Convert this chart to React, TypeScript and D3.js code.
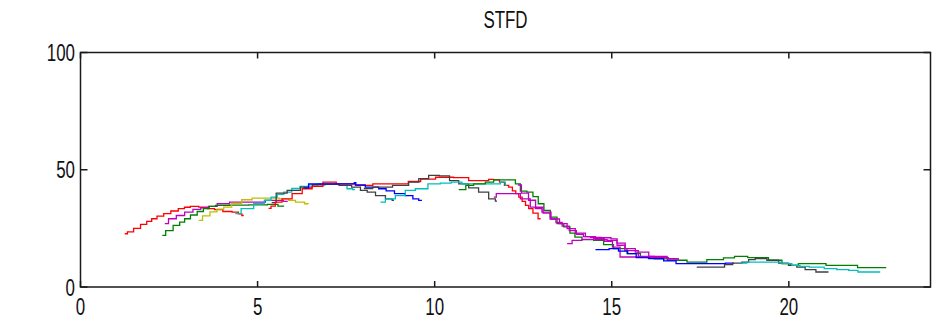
import React from "react";
import * as d3 from "d3";

const TITLE = "STFD";
const X_TICKS = [0, 5, 10, 15, 20];
const Y_TICKS = [0, 50, 100];
const X_DOMAIN = [0, 24];
const Y_DOMAIN = [0, 100];

type P = [number, number];

const red1: P[] = [[1.25,22.7],[1.4,23.5],[1.6,25],[1.79,26.7],[1.95,28],[2.07,29.1],[2.25,30.2],[2.45,31.3],[2.65,32.4],[2.87,33.4],[3.0,34],[3.2,34.4],[3.48,34.1],[3.67,33.4],[3.9,33],[4.14,32.2],[4.42,31.9],[4.5,31.2],[4.61,30.5]];
const magenta1: P[] = [[2.38,27],[2.59,29.1],[2.82,30.5],[3.06,31.9],[3.29,33.1],[3.5,33.8],[3.72,34.4],[4.0,35.5],[4.42,36.2],[4.8,36.2],[5.17,36.2],[5.27,36.9],[5.6,36.9],[5.85,36.5]];
const green1: P[] = [[2.31,22],[2.5,24],[2.73,26.3],[2.87,27.7],[3.01,29.1],[3.2,30.7],[3.39,32.2],[3.55,33.4],[3.72,34.4],[3.9,34.8],[4.5,34.9],[5.0,35],[5.55,35.2],[5.6,34.5],[5.75,34.5]];
const yellow1: P[] = [[3.34,28.4],[3.55,30.3],[3.76,32],[3.95,33.2],[4.14,34.1],[4.4,35.6],[4.7,37.2],[4.99,37.9],[5.4,37.9],[5.83,37.6],[5.93,36.9],[6.21,36.2],[6.44,35.5]];
const cyan1: P[] = [[4.37,31.3],[4.7,33.4],[5.08,35.5],[5.3,37],[5.46,38.3],[5.65,39.5],[5.83,40.5],[6.1,42],[6.3,42.9],[6.58,43.6],[6.8,44],[7.2,44],[7.43,43.3],[7.62,41.9],[7.75,41.5]];
const gray1: P[] = [[5.4,36],[5.65,40],[6.02,41.2],[6.4,42.6],[6.7,43.6],[7.1,43.8],[7.5,43.3],[7.81,42.6],[8.0,41.2],[8.19,40.5],[8.47,39],[8.75,37.6],[8.85,37]];
const red2: P[] = [[5.31,33.5],[5.45,34.5],[5.55,36.2],[5.83,37.6],[6.12,39.8],[6.4,41.9],[6.68,42.9],[7.01,44.7],[7.43,44],[8.09,43.3],[8.42,44],[9.1,44],[9.41,45],[9.8,46],[10.25,46.8],[10.82,46.6],[11.1,45.4],[11.48,45.4],[11.57,45.9],[11.76,45.7],[11.9,44.7],[12.04,43.3],[12.14,42.6],[12.25,41],[12.33,39.8],[12.42,38.3],[12.52,36.5],[12.61,34.8],[12.7,33.4],[12.85,31.5],[12.99,29.1]];
const blue1: P[] = [[6.3,42.3],[6.58,44],[7.0,44],[7.71,44],[7.75,44.5],[7.8,43.5],[8.28,42.6],[8.56,41.9],[8.7,41],[9.03,39.8],[9.31,39],[9.46,37.6],[9.64,36.9]];
const gray2: P[] = [[8.0,42],[8.5,42.6],[9.12,43.3],[9.41,44.7],[9.69,46.2],[9.97,47.6],[10.3,47.4],[10.54,45.4],[10.82,44],[11.1,42.3],[11.38,40.5],[11.67,37.6],[11.76,36.6]];
const cyan2: P[] = [[8.47,36.2],[8.75,37.6],[9.03,39],[9.31,41.2],[9.6,41.9],[10.02,44],[10.3,44.3],[10.63,44.7],[10.91,44],[11.3,44],[11.76,44],[11.95,44.7],[12.04,43.3]];
const green2: P[] = [[10.68,41.5],[10.85,41.5],[10.91,43.3],[11.29,44],[11.57,44.7],[11.76,45.7],[12.23,45.7],[12.33,44],[12.51,40.9],[12.7,40.5],[12.85,38.5],[13.0,35.5],[13.17,32.7],[13.36,29.8],[13.55,27],[13.74,25.6],[13.9,23],[14.02,21.3],[14.3,20.2],[14.68,19.9],[14.86,18.1],[15.24,16.4],[15.62,14.2],[16.0,12.8],[16.4,12],[16.75,11.4],[17.5,10.6],[17.87,11.7],[18.44,12.4],[18.49,13.1],[19.19,12.5],[19.66,11.4],[19.95,10],[20.13,9.2],[20.41,10],[21.0,10],[21.1,9.2],[21.93,9.2],[21.95,8.3],[22.75,8.3]];
const magenta2: P[] = [[11.67,38.3],[11.81,39.8],[12.33,39.8],[12.51,37.6],[12.61,37.6],[12.79,34.1],[12.89,33.4],[13.17,31.9],[13.4,29],[13.65,27],[13.83,24.9],[14.11,23],[14.4,21.5],[14.68,20.2],[15.06,19.9],[15.24,17.8],[15.5,15.5],[16.0,13.1],[16.4,12.6],[16.75,12.1],[16.9,12]];
const magenta3: P[] = [[12.35,43.5],[12.55,40],[12.75,37],[12.95,34],[13.17,31.5],[13.35,29],[13.5,27.5],[13.7,26],[13.9,24],[14.1,22.5],[14.3,21.5],[14.5,21.2],[14.9,21],[15.06,20.5],[15.24,18.7],[15.52,16.4],[15.81,14.9],[16.28,13.1],[16.84,12.1]];
const magenta4: P[] = [[13.74,18.5],[14.02,19.9],[14.3,20.3],[14.68,20.6],[14.9,19.5],[15.14,17],[15.33,12.8],[15.7,12.8],[16.3,12.5],[16.9,12]];
const blue2: P[] = [[14.54,15.9],[14.8,15.9],[15.05,16.4],[15.33,15.3],[15.57,14.2],[15.81,12.5],[16.28,12.1],[16.65,11.1],[16.98,10],[17.5,10],[18.07,10],[18.35,10.2],[18.45,10.2]];
const gray3: P[] = [[17.4,8.5],[17.6,8.5],[18.07,8.5],[18.3,9.5],[18.53,10.2],[18.82,10.6],[18.91,11.7],[19.19,12.1],[19.57,11.4],[19.85,10.2],[20.13,9.2],[20.32,8.5],[20.6,7.4],[20.93,6.4],[21.12,6.4]];
const cyan3: P[] = [[18.63,10.2],[19.0,10.6],[19.66,10.6],[19.95,10],[20.22,9.2],[20.41,8.8],[20.74,8.5],[21.26,7.8],[21.45,7.4],[21.93,7.1],[21.97,6.4],[22.58,6.4]];

const SERIES: { data: P[]; color: string }[] = [
  { data: red1, color: "#ff0000" },
  { data: magenta1, color: "#bf00bf" },
  { data: green1, color: "#008000" },
  { data: yellow1, color: "#bfbf00" },
  { data: cyan1, color: "#00bfbf" },
  { data: gray1, color: "#404040" },
  { data: red2, color: "#ff0000" },
  { data: blue1, color: "#0000ff" },
  { data: gray2, color: "#404040" },
  { data: cyan2, color: "#00bfbf" },
  { data: green2, color: "#008000" },
  { data: magenta2, color: "#bf00bf" },
  { data: magenta3, color: "#bf00bf" },
  { data: magenta4, color: "#bf00bf" },
  { data: blue2, color: "#0000ff" },
  { data: gray3, color: "#404040" },
  { data: cyan3, color: "#00bfbf" },
];

const W = 937;
const H = 324;
const L = 80.5, R = 930.5, T = 52.5, B = 287;
const FONT = "'Liberation Sans', Arial, sans-serif";
const SX = 0.72;
const FS = 23.5;
const TICK = 6;

export default function App() {
  const x = d3.scaleLinear().domain(X_DOMAIN).range([L, R]);
  const y = d3.scaleLinear().domain(Y_DOMAIN).range([B, T]);
  const line = d3
    .line<P>()
    .x((d) => x(d[0]))
    .y((d) => y(d[1]))
    .curve(d3.curveStep);
  const axisColor = "#1a1a1a";
  return (
    <svg
      width={W}
      height={H}
      style={{ position: "absolute", left: 0, top: 0, background: "#fff" }}
    >
      <rect x={0} y={0} width={W} height={H} fill="#fff" />
      <g>
        {SERIES.map((s, i) => (
          <path
            key={i}
            d={line(s.data) || ""}
            fill="none"
            stroke={s.color}
            strokeWidth={1.3}
          />
        ))}
      </g>
      <g stroke={axisColor} strokeWidth={1.5} fill="none">
        <rect x={L} y={T} width={R - L} height={B - T} />
        {X_TICKS.map((t) => (
          <g key={"xt" + t}>
            <line x1={x(t)} x2={x(t)} y1={B} y2={B - TICK} />
            <line x1={x(t)} x2={x(t)} y1={T} y2={T + TICK} />
          </g>
        ))}
        {Y_TICKS.map((t) => (
          <g key={"yt" + t}>
            <line x1={L} x2={L + TICK + 1} y1={y(t)} y2={y(t)} />
            <line x1={R} x2={R - TICK - 1} y1={y(t)} y2={y(t)} />
          </g>
        ))}
      </g>
      <g fontFamily={FONT} fontSize={FS} fill="#111">
        {X_TICKS.map((t) => (
          <text
            key={"xl" + t}
            transform={`translate(${x(t)},315) scale(${SX},1)`}
            textAnchor="middle"
          >
            {t}
          </text>
        ))}
        {Y_TICKS.map((t) => (
          <text
            key={"yl" + t}
            transform={`translate(75,${y(t) + 8.5}) scale(${SX},1)`}
            textAnchor="end"
          >
            {t}
          </text>
        ))}
        <text
          transform={`translate(${(L + R) / 2},28) scale(${SX},1)`}
          textAnchor="middle"
        >
          {TITLE}
        </text>
      </g>
    </svg>
  );
}
